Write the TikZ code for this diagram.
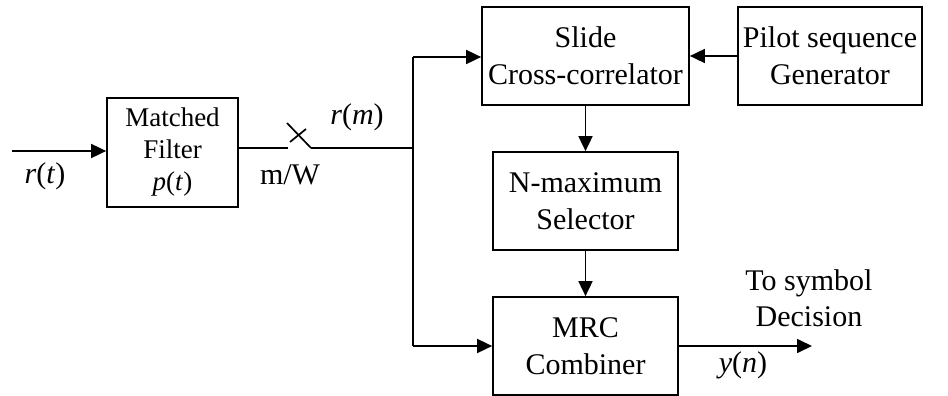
\documentclass[tikz,border=0pt]{standalone}
\usepackage{fontspec}
\setmainfont{Liberation Serif}
\usetikzlibrary{arrows.meta}
\begin{document}
\begin{tikzpicture}[x=1pt,y=-1pt,
  line width=1.7pt,
  blk/.style={draw, line width=1.7pt, align=center, inner sep=0pt,
              font=\fontsize{30}{37}\selectfont},
  lbl/.style={inner sep=0pt, align=center, font=\fontsize{30}{36}\selectfont},
  arr/.style={-{Triangle[length=15pt,width=14pt]}}]
\useasboundingbox (0,0) rectangle (948,396);

% blocks
\node[blk, minimum width=131pt, minimum height=109pt,
      font=\fontsize{27}{32}\selectfont] (mf) at (172.5,152.5)
      {Matched\\Filter\\\textit{p}(\textit{t})};
\node[blk, minimum width=207pt, minimum height=98pt] (scc) at (585.5,56)
      {Slide\\Cross-correlator};
\node[blk, minimum width=184pt, minimum height=98pt] (psg) at (830,56)
      {Pilot sequence\\Generator};
\node[blk, minimum width=185pt, minimum height=98pt] (nms) at (585.5,201)
      {N-maximum\\Selector};
\node[blk, minimum width=185pt, minimum height=98pt] (mrc) at (585.5,346)
      {MRC\\Combiner};

% input
\coordinate (in) at (12,151);
\draw[arr] (in) -- (in -| mf.west);

% sampling switch
\coordinate (swa) at (288,148);
\coordinate (swb) at (311,148);
\coordinate (swt) at (287,123);
\coordinate (swc1) at (290,142);
\coordinate (swc2) at (306,129);
\draw (mf.east |- swa) -- (swa);
\draw (swt) -- (swb);
\draw (swc1) -- (swc2);

% distribution bus
\coordinate (bus) at (413,148);
\coordinate (bustop) at (413,57);
\coordinate (busbot) at (413,346);
\draw (swb) -- (bus);
\draw (bustop) -- (busbot);
\draw[arr] (bustop) -- (bustop -| scc.west);
\draw[arr] (busbot) -- (busbot -| mrc.west);

% processing chain
\draw[arr] (psg.west) -- (scc.east);
\draw[arr] (scc.south) -- (nms.north);
\draw[arr] (nms.south) -- (mrc.north);
\coordinate (out) at (812,346);
\draw[arr] (mrc.east) -- (out);

% labels
\node[lbl] (lrt) at (45,176) {\textit{r}(\textit{t})};
\node[lbl] (lmw) at (290,175) {m/W};
\node[lbl] (lrm) at (357,117) {\textit{r}(\textit{m})};
\node[lbl] (lyn) at (743,365) {\textit{y}(\textit{n})};
\node[lbl] (lts) at (809,298) {To symbol\\Decision};
\end{tikzpicture}
\end{document}
